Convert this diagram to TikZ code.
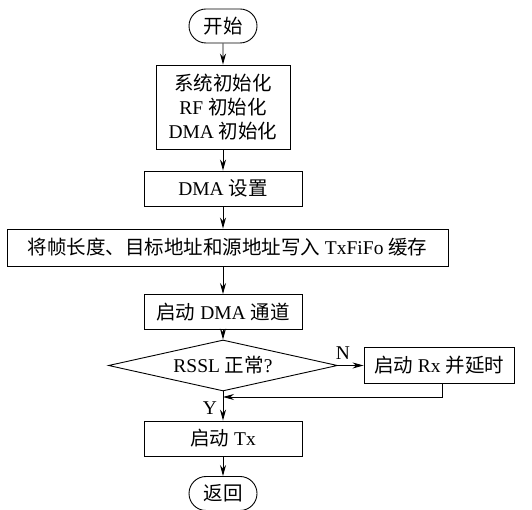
\documentclass[tikz,border=0pt]{standalone}
\usepackage{fontspec}
\setmainfont{Liberation Serif}
\newfontfamily\cjk{Noto Sans CJK SC}
\usetikzlibrary{shapes.geometric}
\usetikzlibrary{shapes.misc}
\usetikzlibrary{arrows.meta}
\newcommand*{\zh}[1]{{\cjk #1}}

\begin{document}
\begin{tikzpicture}[x=1pt, y=1pt, line width=0.9pt,
  >={Stealth[length=11pt,width=6pt]},
  font=\fontsize{19.5}{24}\selectfont,
  stepbox/.style={draw, rectangle, inner sep=0pt, minimum width=158pt, minimum height=35pt},
  term/.style={draw, rounded rectangle, inner sep=0pt, minimum width=68pt, minimum height=34pt},
  decision/.style={draw, diamond, inner sep=0pt, shape aspect=4.5, minimum width=229pt, minimum height=51pt}]
\useasboundingbox (0,0) rectangle (532,510);
\node[term] (start) at (223,484) {\zh{开始}};
\node[stepbox, minimum width=134pt, minimum height=84pt, align=center] (init) at (223,403)
  {\zh{系统初始化}\\RF \zh{初始化}\\DMA \zh{初始化}};
\node[stepbox] (dmaset) at (223,321.5) {DMA \zh{设置}};
\node[stepbox, minimum width=441pt, minimum height=37pt] (write) at (227.5,262.5)
  {\zh{将帧长度、目标地址和源地址写入} TxFiFo \zh{缓存}};
\node[stepbox] (dmach) at (223,198) {\zh{启动} DMA \zh{通道}};
\node[decision] (check) at (223,144.5) {RSSL \zh{正常}?};
\node[stepbox, minimum width=150pt, minimum height=36pt] (rx) at (439,144.5) {\zh{启动} Rx \zh{并延时}};
\node[stepbox] (tx) at (223,71.5) {\zh{启动} Tx};
\node[term] (ret) at (223,493.5-477) {\zh{返回}};
\coordinate (join) at (223,113);
\node (nlab) at (343,157) {N};
\node (ylab) at (210,102) {Y};
% connectors
\draw[->] (start) -- (init);
\draw[->] (init) -- (dmaset);
\draw[->] (dmaset) -- (dmaset |- write.north);
\draw[->] (dmach |- write.south) -- (dmach);
\draw[->] (dmach) -- (check);
\draw[->] (check.east) -- (rx.west);
\draw[->] (check) -- (tx);
\draw[->] ([xshift=3pt]rx.south) |- (join);
\draw[->] (tx) -- (ret);
\end{tikzpicture}
\end{document}
